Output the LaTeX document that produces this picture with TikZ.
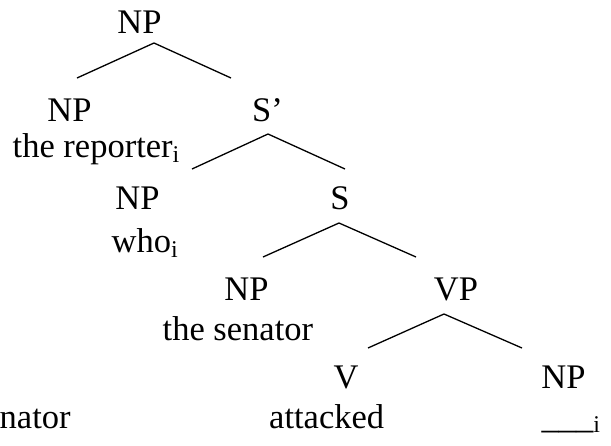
\documentclass[tikz,border=0pt]{standalone}
\usepackage{fontspec}
\setmainfont{Liberation Serif}
% lowered index letter after a word
\newcommand\idxsub[1]{\raisebox{-4.5pt}{\fontsize{24}{24}\selectfont #1}}
\begin{document}
\begin{tikzpicture}[x=1pt,y=-1pt,
  lbl/.style={inner sep=0pt,anchor=base,font=\fontsize{34.5}{40}\selectfont},
  wrd/.style={inner sep=0pt,anchor=base west,font=\fontsize{34.5}{40}\selectfont},
  branch/.style={line width=1.3pt,line cap=butt,line join=miter}]
\useasboundingbox (0,0) rectangle (611,445);

% categories
\node[lbl] (np1) at (139.5,33) {NP};
\node[lbl] (np2) at (69.5,121) {NP};
\node[lbl] (sbar) at (267.5,121) {S’};
\node[lbl] (np3) at (137.5,209) {NP};
\node[lbl] (s) at (340,209) {S};
\node[lbl] (np4) at (246.5,300) {NP};
\node[lbl] (vp) at (456,300) {VP};
\node[lbl] (v) at (346,388) {V};
\node[lbl] (np5) at (563.5,388) {NP};

% words
\node[wrd] (reporter) at (12.5,157.5) {the reporter\idxsub{i}};
\node[wrd] (who) at (111.5,252.5) {who\idxsub{i}};
\node[wrd] (senator) at (162.5,340.5) {the senator};
\node[wrd] (attacked) at (269,428) {attacked};
\node[wrd] (gap) at (541.5,428) {\_\_\_\idxsub{i}};
\node[wrd] (nator) at (-0.5,428) {nator};

% branch points
\coordinate (a1) at (154,43);   \coordinate (a1l) at (77,78);   \coordinate (a1r) at (231,78);
\coordinate (a2) at (268,134);  \coordinate (a2l) at (192,169); \coordinate (a2r) at (345,169);
\coordinate (a3) at (339,223);  \coordinate (a3l) at (263,257); \coordinate (a3r) at (416,257);
\coordinate (a4) at (444,314);  \coordinate (a4l) at (368,348); \coordinate (a4r) at (522,348);

\draw[branch] (a1l) -- (a1) -- (a1r);
\draw[branch] (a2l) -- (a2) -- (a2r);
\draw[branch] (a3l) -- (a3) -- (a3r);
\draw[branch] (a4l) -- (a4) -- (a4r);
\end{tikzpicture}
\end{document}
